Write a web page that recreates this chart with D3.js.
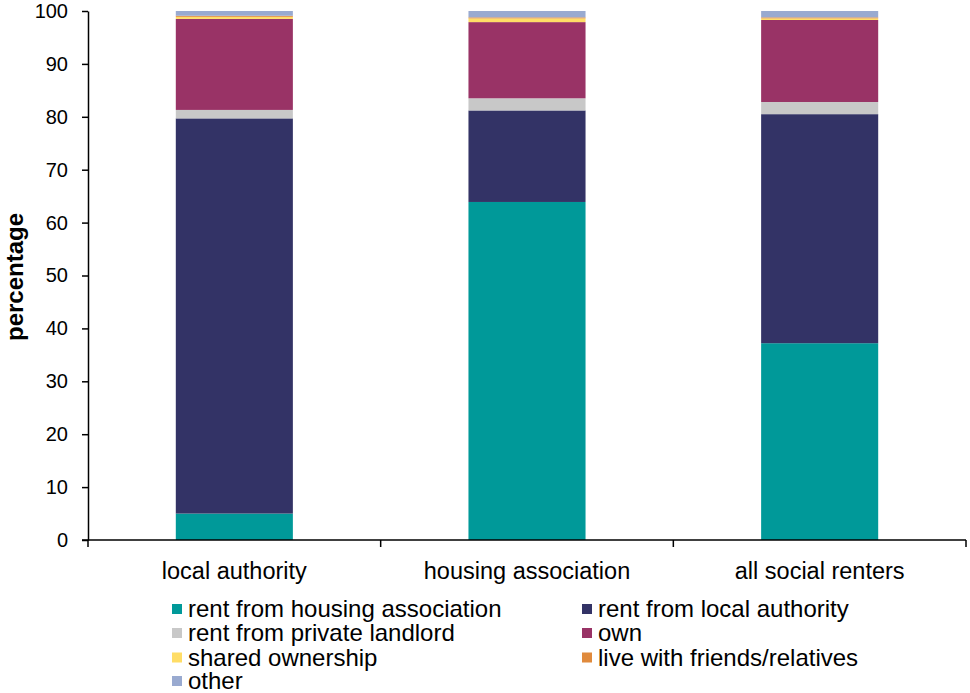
<!DOCTYPE html>
<html>
<head>
<meta charset="utf-8">
<script src="https://cdn.jsdelivr.net/npm/d3@7"></script>
<style>
  html, body { margin: 0; padding: 0; background: #ffffff; }
  svg { display: block; font-family: "Liberation Sans", Arial, sans-serif; }
</style>
</head>
<body>
<svg id="chart" width="970" height="693"></svg>
<script>
// Tenure of social renters' households, by landlord type (percentages)
const categories = ["local authority", "housing association", "all social renters"];
const seriesNames = [
  "rent from housing association",
  "rent from local authority",
  "rent from private landlord",
  "own",
  "shared ownership",
  "live with friends/relatives",
  "other"
];
const seriesColors = ["#009999", "#333366", "#c8c8c8", "#993366", "#ffdd66", "#e08a3c", "#99aad0"];
const rentHousingAssociation = [5.0, 63.9, 37.2];
const rentLocalAuthority     = [74.7, 17.3, 43.3];
const rentPrivateLandlord    = [1.6, 2.3, 2.3];
const own                    = [17.2, 14.4, 15.5];
const sharedOwnership        = [0.4, 0.7, 0.3];
const liveWithFriends        = [0.2, 0.2, 0.2];
const other                  = [0.9, 1.2, 1.2];
const yTicks = [0, 10, 20, 30, 40, 50, 60, 70, 80, 90, 100];

const seriesValues = [rentHousingAssociation, rentLocalAuthority, rentPrivateLandlord,
                      own, sharedOwnership, liveWithFriends, other];

const rows = categories.map((c, i) => {
  const r = { category: c };
  seriesNames.forEach((s, j) => { r[s] = seriesValues[j][i]; });
  return r;
});

const svg = d3.select("#chart");
const plotLeft = 88, plotRight = 966, plotTop = 11, plotBottom = 540;

const x = d3.scaleBand().domain(categories).range([plotLeft, plotRight]).padding(0);
const y = d3.scaleLinear().domain([0, 100]).range([plotBottom, plotTop]);
const barWidth = x.bandwidth() * 0.4;

const stacked = d3.stack().keys(seriesNames)(rows);

// Stacked bars
svg.append("g")
  .selectAll("g")
  .data(stacked)
  .join("g")
  .attr("fill", (d, i) => seriesColors[i])
  .selectAll("rect")
  .data(d => d)
  .join("rect")
  .attr("x", d => x(d.data.category) + (x.bandwidth() - barWidth) / 2)
  .attr("y", d => y(d[1]))
  .attr("width", barWidth)
  .attr("height", d => Math.max(0, y(d[0]) - y(d[1])));

// Y axis
const yAxis = svg.append("g")
  .attr("transform", `translate(${plotLeft},0)`)
  .call(d3.axisLeft(y).tickValues(yTicks).tickSize(6).tickPadding(14).tickSizeOuter(0));
yAxis.select(".domain").attr("stroke", "#000").attr("stroke-width", 1.5);
yAxis.selectAll(".tick line").attr("stroke", "#000").attr("stroke-width", 1.5);
yAxis.selectAll(".tick text").attr("font-size", 20).attr("fill", "#000")
  .attr("font-family", "Liberation Sans, Arial, sans-serif");

// X axis with tick marks at the category boundaries
const xAxisG = svg.append("g").attr("transform", `translate(0,${plotBottom})`);
xAxisG.append("line")
  .attr("x1", plotLeft - 6).attr("x2", plotRight)
  .attr("stroke", "#000").attr("stroke-width", 1.5);
const boundaries = categories.map(c => x(c)).concat([plotRight]);
xAxisG.selectAll("line.tick")
  .data(boundaries)
  .join("line")
  .attr("class", "tick")
  .attr("x1", d => d).attr("x2", d => d)
  .attr("y1", 0).attr("y2", 7)
  .attr("stroke", "#000").attr("stroke-width", 1.5);
xAxisG.selectAll("text")
  .data(categories)
  .join("text")
  .attr("x", d => x(d) + x.bandwidth() / 2)
  .attr("y", 39)
  .attr("text-anchor", "middle")
  .attr("font-size", 23.5)
  .attr("fill", "#000")
  .text(d => d);

// Y axis title
svg.append("text")
  .attr("transform", `translate(23,277) rotate(-90)`)
  .attr("text-anchor", "middle")
  .attr("font-size", 24)
  .attr("font-weight", "bold")
  .attr("fill", "#000")
  .text("percentage");

// Legend: two columns, filled row by row
const legendCols = [172, 582];
const legendRows = [609, 633, 657.5, 681];
const legend = svg.append("g");
seriesNames.forEach((name, i) => {
  const cx = legendCols[i % 2];
  const cy = legendRows[Math.floor(i / 2)];
  legend.append("rect")
    .attr("x", cx).attr("y", cy - 5)
    .attr("width", 10).attr("height", 10)
    .attr("fill", seriesColors[i]);
  legend.append("text")
    .attr("x", cx + 16).attr("y", cy)
    .attr("dy", "0.35em")
    .attr("font-size", 24)
    .attr("fill", "#000")
    .text(name);
});
</script>
</body>
</html>
